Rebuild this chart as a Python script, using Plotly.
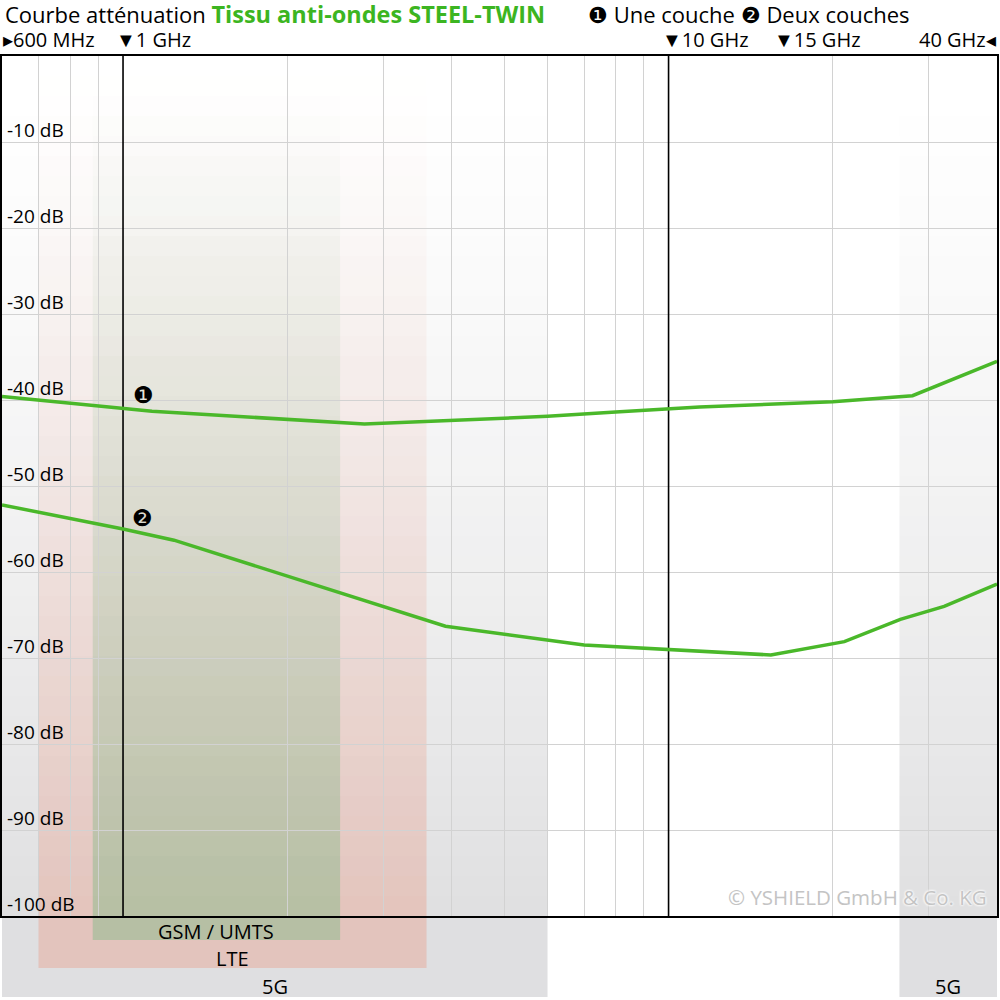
import math
import plotly.graph_objects as go

# ---------------- data ----------------
freq_one_ghz = [0.6, 1.0, 1.13, 2.77, 4.0, 6.0, 8.0, 10.0, 11.4, 20.0, 28.0, 40.0]
att_one_db = [-39.6, -40.9, -41.3, -42.8, -42.4, -41.9, -41.4, -41.05, -40.8, -40.2, -39.5, -35.5]

freq_two_ghz = [0.6, 1.0, 1.24, 3.9, 7.0, 10.0, 15.4, 21.0, 26.6, 32.0, 40.0]
att_two_db = [-52.2, -55.0, -56.3, -66.3, -68.5, -69.0, -69.65, -68.1, -65.5, -64.0, -61.4]

minor_grid_ghz = [0.7, 0.8, 0.9, 2, 3, 4, 5, 6, 7, 8, 9, 20, 30]
major_grid_ghz = [1, 10]
y_ticks_db = [-10, -20, -30, -40, -50, -60, -70, -80, -90, -100]
y_tick_labels = ["-10 dB", "-20 dB", "-30 dB", "-40 dB", "-50 dB", "-60 dB",
                 "-70 dB", "-80 dB", "-90 dB", "-100 dB"]

top_label_freq_ghz = [0.6, 1, 10, 15, 40]
top_label_text = ["▸600 MHz", "▼1 GHz", "▼10 GHz", "▼15 GHz", "40 GHz◂"]

band_names = ["5G", "LTE", "GSM / UMTS", "5G"]
band_lo_ghz = [0.6, 0.7, 0.88, 26.5]
band_hi_ghz = [6.0, 3.6, 2.5, 40.0]

# ---------------- styles ----------------
FONT = "Open Sans"
LINE_GREEN = "#4ab82a"
TITLE_GREEN = "#3cb521"
W, H = 1000, 1000
M_L, M_R, M_T, M_B = 2, 3, 56, 84
PLOT_H = H - M_T - M_B  # 860

band_rgb = [(128, 128, 134), (234, 146, 123), (137, 186, 139), (128, 128, 134)]
band_alpha = [0.25, 0.35, 0.5, 0.25]
band_bottom_px = [997, 968, 940, 997]
band_label_px = [986, 958, 931, 986]


def px_to_paper(py):
    return (H - M_B - py) / PLOT_H


fig = go.Figure()

shapes = []
N = 43  # 20px slices
for k in range(len(band_names)):
    r, g, b = band_rgb[k]
    a_full = band_alpha[k]
    x0, x1 = band_lo_ghz[k], band_hi_ghz[k]
    shapes.append(dict(type="rect", xref="x", yref="paper", x0=x0, x1=x1,
                       y0=px_to_paper(band_bottom_px[k]), y1=0,
                       fillcolor=f"rgba({r},{g},{b},{a_full})", line_width=0, layer="below"))
    for i in range(N):
        gfac = 1 - (i + 0.5) / N
        gfac = gfac ** 1.35
        shapes.append(dict(type="rect", xref="x", yref="paper", x0=x0, x1=x1,
                           y0=i / N, y1=(i + 1) / N,
                           fillcolor=f"rgba({r},{g},{b},{a_full * gfac:.4f})",
                           line_width=0, layer="below"))

for f in major_grid_ghz:
    shapes.append(dict(type="line", xref="x", yref="y", x0=f, x1=f, y0=-100, y1=0,
                       line=dict(color="black", width=1.6), layer="between"))

fig.add_trace(go.Scatter(x=freq_one_ghz, y=att_one_db, mode="lines",
                         line=dict(color=LINE_GREEN, width=3.5), showlegend=False,
                         hoverinfo="skip"))
fig.add_trace(go.Scatter(x=freq_two_ghz, y=att_two_db, mode="lines",
                         line=dict(color=LINE_GREEN, width=3.5), showlegend=False,
                         hoverinfo="skip"))

ann = []
ann.append(dict(xref="paper", yref="paper", x=0, y=1, xanchor="left", yanchor="middle",
                xshift=1, yshift=42, showarrow=False,
                text=(f"Courbe atténuation <span style='color:{TITLE_GREEN};font-size:23.5px'>"
                      "<b>Tissu anti-ondes STEEL-TWIN</b></span>"),
                font=dict(family=FONT, size=22, color="black")))
ann.append(dict(xref="paper", yref="paper", x=0, y=1, xanchor="left", yanchor="middle",
                xshift=584, yshift=42, showarrow=False,
                text="❶ Une couche ❷ Deux couches",
                font=dict(family=FONT, size=22, color="black")))
for f, t in zip(top_label_freq_ghz, top_label_text):
    if t.startswith("▸"):
        xa, xs = "left", -1
    elif t.endswith("◂"):
        xa, xs = "right", 1
    else:
        xa, xs = "left", -9
    if f == 15:
        xs = 7
    ann.append(dict(xref="x", yref="paper", x=math.log10(f), y=1, xanchor=xa,
                    yanchor="middle", xshift=xs, yshift=17, showarrow=False, text=t,
                    font=dict(family=FONT, size=20, color="black")))
for v, t in zip(y_ticks_db, y_tick_labels):
    ann.append(dict(xref="paper", yref="y", x=0, y=v, xanchor="left", yanchor="middle",
                    xshift=3, yshift=12, showarrow=False, text=t,
                    font=dict(family=FONT, size=19, color="black")))
for k, name in enumerate(band_names):
    center = math.sqrt(band_lo_ghz[k] * band_hi_ghz[k])
    ann.append(dict(xref="x", yref="paper", x=math.log10(center), y=0,
                    xanchor="center", yanchor="middle",
                    yshift=-(band_label_px[k] - (H - M_B)), showarrow=False, text=name,
                    font=dict(family=FONT, size=20, color="black")))
ann.append(dict(xref="x", yref="y", x=math.log10(freq_one_ghz[1]), y=att_one_db[1],
                xanchor="center", yanchor="middle", xshift=20, yshift=14, showarrow=False,
                text="❶", font=dict(family=FONT, size=23, color="black")))
ann.append(dict(xref="x", yref="y", x=math.log10(freq_two_ghz[1]), y=att_two_db[1],
                xanchor="center", yanchor="middle", xshift=19, yshift=12, showarrow=False,
                text="❷", font=dict(family=FONT, size=23, color="black")))
ann.append(dict(xref="paper", yref="paper", x=1, y=0, xanchor="right", yanchor="middle",
                xshift=-8, yshift=19, showarrow=False, text="© YSHIELD GmbH &amp; Co. KG",
                font=dict(family=FONT, size=20.5, color="#c4c4c4",
                          shadow="0 0 3px white, 0 0 3px white, 0 0 2px white")))

fig.update_layout(
    width=W, height=H,
    margin=dict(l=M_L, r=M_R, t=M_T, b=M_B, pad=0),
    paper_bgcolor="white", plot_bgcolor="rgba(0,0,0,0)",
    shapes=shapes, annotations=ann, showlegend=False,
    xaxis=dict(type="log", range=[math.log10(0.6), math.log10(40)],
               tickvals=minor_grid_ghz, showticklabels=False, ticks="",
               showgrid=True, gridcolor="#d2d2d2", gridwidth=1,
               showline=True, linecolor="black", linewidth=2, mirror=True,
               zeroline=False, fixedrange=True),
    yaxis=dict(range=[-100, 0], tickvals=y_ticks_db, showticklabels=False, ticks="",
               showgrid=True, gridcolor="#d2d2d2", gridwidth=1,
               showline=True, linecolor="black", linewidth=2, mirror=True,
               zeroline=False, fixedrange=True),
)

fig.write_html("out.html", config={"displayModeBar": False},
               post_script="document.body.style.margin='0';document.body.style.overflow='hidden';")
